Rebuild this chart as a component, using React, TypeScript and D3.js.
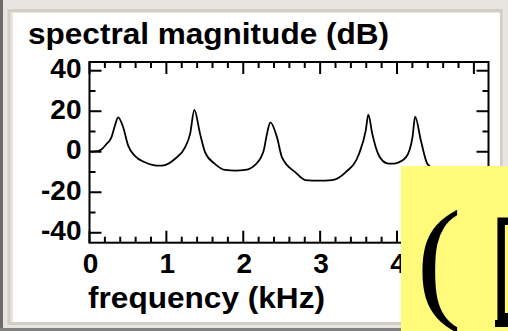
import React from "react";
import * as d3 from "d3";

const freqKHz = [0, 0.1, 0.15, 0.22, 0.285, 0.33, 0.372, 0.437, 0.503, 0.59, 0.72, 0.83, 0.905, 0.98, 1.11, 1.243, 1.308, 1.364, 1.439, 1.504, 1.634, 1.765, 1.9, 2.026, 2.157, 2.265, 2.308, 2.353, 2.439, 2.504, 2.679, 2.81, 2.98, 3.157, 3.33, 3.505, 3.593, 3.627, 3.679, 3.766, 3.871, 3.93, 3.984, 4.115, 4.201, 4.236, 4.311, 4.397, 4.6, 4.9, 5.2];
const magnitudeDb = [0, 0.3, 1, 3.8, 7.1, 12.8, 17, 12.2, 3, -2, -5.2, -6.6, -6.9, -6.6, -3.6, 2.2, 8.7, 20.6, 8.7, -0.3, -6.1, -9, -9.3, -9, -6.4, 0.5, 8.7, 14.5, 7.1, -2.8, -10.2, -14, -14.3, -14, -10.2, -1.1, 10.4, 18.3, 8.7, -2, -5.7, -5.9, -5.7, -2.8, 7.1, 17.3, 5.4, -6.1, -11, -14, -16];

const yTickLabels = [40, 20, 0, -20, -40];
const yMinorTicks = [30, 10, -10, -30];
const xTickLabels = [0, 1, 2, 3, 4, 5];
const xTickLabelsShown = [0, 1, 2, 3, 4];

const title = "spectral magnitude (dB)";
const xTitle = "frequency (kHz)";

export default function App() {
  const x = d3.scaleLinear().domain([0, 5.19]).range([89.5, 488.5]);
  const y = d3.scaleLinear().domain([-44.9, 44.3]).range([242.7, 62]);
  const data = freqKHz.map((f, i) => [f, magnitudeDb[i]] as [number, number]);
  const line = d3
    .line<[number, number]>()
    .x((d) => x(d[0]))
    .y((d) => y(d[1]))
    .curve(d3.curveMonotoneX);

  const x0 = x(0), x1 = x(5.19), yTop = y(44.3), yBot = y(-44.9);
  const xMinor = d3.range(0, 5.2, 0.2).filter((v) => Math.abs(v - Math.round(v)) > 0.01);

  const font = "'Liberation Sans', Arial, sans-serif";
  const tickStyle = { stroke: "#000", strokeWidth: 2 };

  return (
    <svg width={508} height={331} style={{ position: "absolute", left: 0, top: 0 }}>
      {/* window frame */}
      <rect x={0} y={0} width={508} height={331} fill="#e7e5e0" />
      <rect x={0} y={0} width={3} height={331} fill="#6c6c6c" />
      <rect x={0} y={328} width={508} height={3} fill="#808080" />
      <rect x={9} y={10.5} width={492} height={313} fill="none" stroke="#d2cec6" strokeWidth={3} />
      <rect x={13} y={13} width={487} height={309} fill="#fff" />

      {/* title */}
      <text x={28} y={44} fontFamily={font} fontWeight="bold" fontSize={30} textLength={361} lengthAdjust="spacingAndGlyphs">
        {title}
      </text>

      <defs>
        <clipPath id="plotclip">
          <rect x={x0} y={yTop} width={x1 - x0} height={yBot - yTop} />
        </clipPath>
      </defs>

      {/* curve */}
      <path d={line(data) || ""} fill="none" stroke="#000" strokeWidth={1.8} clipPath="url(#plotclip)" />

      {/* axes frame */}
      <rect x={x0} y={yTop} width={x1 - x0} height={yBot - yTop} fill="none" stroke="#000" strokeWidth={2} />

      {/* y ticks */}
      {yTickLabels.map((v) => (
        <g key={"ym" + v}>
          <line x1={x0} x2={x0 + 12} y1={y(v)} y2={y(v)} {...tickStyle} />
          <line x1={x1} x2={x1 - 12} y1={y(v)} y2={y(v)} {...tickStyle} />
          <text x={81.5} y={y(v) + 7.5} textAnchor="end" fontFamily={font} fontWeight="bold" fontSize={28}>
            {v}
          </text>
        </g>
      ))}
      {yMinorTicks.map((v) => (
        <g key={"yn" + v}>
          <line x1={x0} x2={x0 + 6} y1={y(v)} y2={y(v)} {...tickStyle} />
          <line x1={x1} x2={x1 - 6} y1={y(v)} y2={y(v)} {...tickStyle} />
        </g>
      ))}

      {/* x ticks */}
      {xTickLabels.map((v) => (
        <g key={"xm" + v}>
          <line x1={x(v)} x2={x(v)} y1={yBot} y2={yBot - 12} {...tickStyle} />
          <line x1={x(v)} x2={x(v)} y1={yTop} y2={yTop + 12} {...tickStyle} />
        </g>
      ))}
      {xMinor.map((v) => (
        <g key={"xn" + v}>
          <line x1={x(v)} x2={x(v)} y1={yBot} y2={yBot - 6} {...tickStyle} />
          <line x1={x(v)} x2={x(v)} y1={yTop} y2={yTop + 6} {...tickStyle} />
        </g>
      ))}
      {xTickLabelsShown.map((v) => (
        <text key={"xl" + v} x={x(v) + 1} y={273} textAnchor="middle" fontFamily={font} fontWeight="bold" fontSize={28}>
          {v}
        </text>
      ))}

      <text x={88} y={308} fontFamily={font} fontWeight="bold" fontSize={30} textLength={237} lengthAdjust="spacingAndGlyphs">
        {xTitle}
      </text>

      {/* yellow overlay */}
      <rect x={401} y={166} width={107} height={165} fill="#fffa7a" />
      <text x={416.5} y={304} fontFamily="'Liberation Serif', 'Times New Roman', serif" fontSize={135} fill="#000">
        (
      </text>
      <text x={485} y={304} fontFamily="'DejaVu Sans', sans-serif" fontSize={135} fill="#000">
        {"\u25AF"}
      </text>
      <rect x={495} y={320} width={13} height={7} fill="#000" />
    </svg>
  );
}
